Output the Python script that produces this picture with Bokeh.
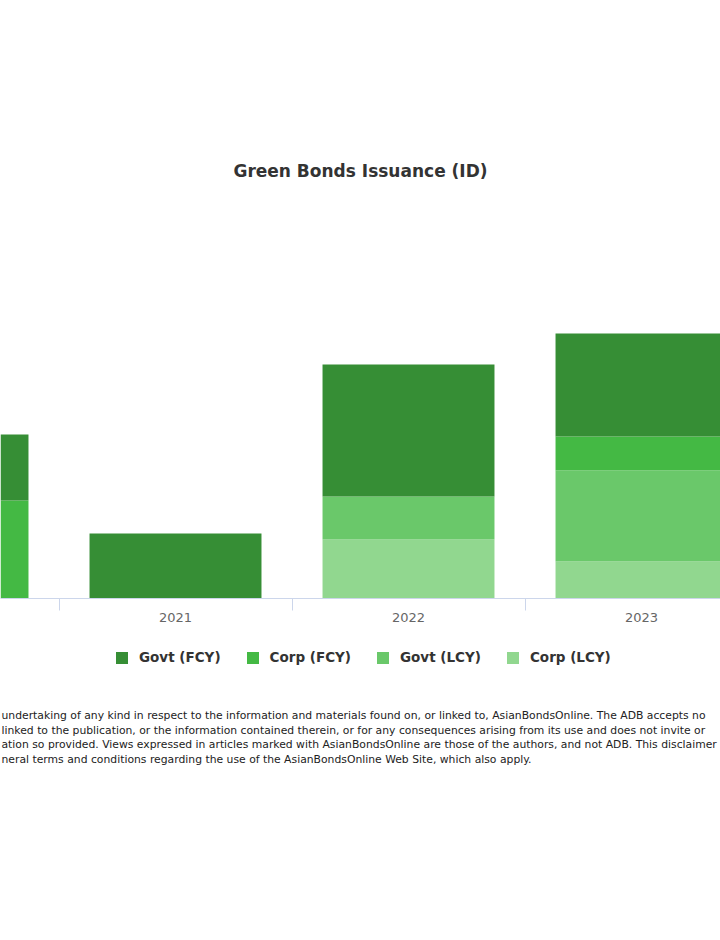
from bokeh.plotting import figure
from bokeh.models import Range1d, FixedTicker, Legend, LegendItem, ColumnDataSource
from bokeh.core.properties import value
from bokeh.embed import file_html
from bokeh.resources import INLINE

# Green bonds issuance, Indonesia
years = ["2020", "2021", "2022", "2023"]
govt_fcy = [0.66, 0.65, 1.32, 1.03]
corp_fcy = [0.98, 0.00, 0.00, 0.34]
govt_lcy = [0.00, 0.00, 0.43, 0.91]
corp_lcy = [0.00, 0.00, 0.59, 0.37]

labels = ["Govt (FCY)", "Corp (FCY)", "Govt (LCY)", "Corp (LCY)"]
colors = ["#368e35", "#44b944", "#6ac86a", "#91d78f"]

disclaimer = [
    "undertaking of any kind in respect to the information and materials found on, or linked to, AsianBondsOnline. The ADB accepts no",
    " linked to the publication, or the information contained therein, or for any consequences arising from its use and does not invite or",
    "ation so provided. Views expressed in articles marked with AsianBondsOnline are those of the authors, and not ADB. This disclaimer",
    "neral terms and conditions regarding the use of the AsianBondsOnline Web Site, which also apply.",
]

FONT = "DejaVu Sans"
PX = 233.0      # pixels per category
UNIT = 100.0    # pixels per value unit
X0 = 0.2489     # left edge of the visible window (categories are partly cut off)
FRAME_H = 715   # frame reaches down past the legend and the note

xs = list(range(len(years)))
source = ColumnDataSource(data=dict(
    x=xs, govt_fcy=govt_fcy, corp_fcy=corp_fcy, govt_lcy=govt_lcy, corp_lcy=corp_lcy,
))

p = figure(frame_width=720, frame_height=FRAME_H, output_backend="svg", toolbar_location=None,
           x_range=Range1d(X0, X0 + 720 / PX),
           y_range=Range1d(-(FRAME_H - 413) / UNIT, 413 / UNIT),
           min_border_left=0, min_border_right=0, min_border_top=185, min_border_bottom=0)
p.outline_line_color = None
p.grid.visible = False
p.yaxis.visible = False

p.title.text = "Green Bonds Issuance (ID)"
p.title.align = "center"
p.title.text_font = FONT
p.title.text_font_style = "bold"
p.title.text_font_size = "17px"
p.title.text_color = "#333333"

# stacked bottom -> top
stack_keys = ["corp_lcy", "govt_lcy", "corp_fcy", "govt_fcy"]
stack_colors = [colors[3], colors[2], colors[1], colors[0]]
rs = p.vbar_stack(stack_keys, x="x", width=0.738, source=source,
                  fill_color=stack_colors, line_color=None)
by_key = dict(zip(stack_keys, rs))

xa = p.xaxis[0]
xa.fixed_location = 0
xa.ticker = FixedTicker(ticks=xs, minor_ticks=[i + 0.5 for i in xs[:-1]])
xa.major_label_overrides = {i: y for i, y in zip(xs, years)}
xa.major_tick_line_color = None
xa.major_tick_out = 0
xa.major_tick_in = 0
xa.minor_tick_out = 12
xa.minor_tick_in = 0
xa.minor_tick_line_color = "#ccd6eb"
xa.axis_line_color = "#ccd6eb"
xa.major_label_standoff = 2
xa.major_label_text_font = FONT
xa.major_label_text_font_size = "13px"
xa.major_label_text_color = "#666666"

items = [LegendItem(label=lab, renderers=[by_key[k]])
         for lab, k in zip(labels, ["govt_fcy", "corp_fcy", "govt_lcy", "corp_lcy"])]
legend = Legend(items=items, orientation="horizontal", location=(114, FRAME_H - 480),
                border_line_color=None, background_fill_alpha=0,
                label_text_font=FONT, label_text_font_style="bold",
                label_text_font_size="13.5px", label_text_color="#333333",
                glyph_width=15, glyph_height=15, label_height=15,
                label_standoff=10, spacing=24, padding=5, margin=0)
p.add_layout(legend)

# disclaimer note under the legend (cut off at both sides, as in the source)
p.text(x=[X0 + 1 / PX] * len(disclaimer),
       y=[-(117 + 14.7 * i) / UNIT for i in range(len(disclaimer))],
       text=disclaimer, text_baseline="middle", text_align="left",
       text_font=value(FONT), text_font_size="10.8px", text_color="#222222")

open("out.html", "w").write(file_html(p, INLINE))
